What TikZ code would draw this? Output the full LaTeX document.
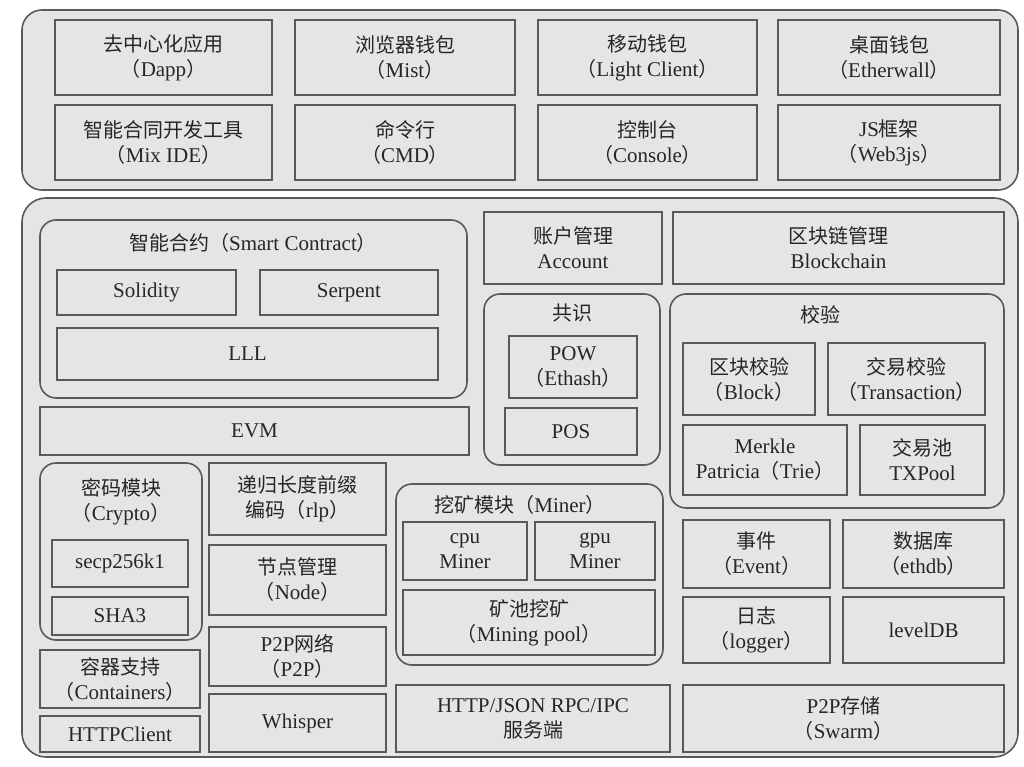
\documentclass[tikz,border=0pt]{standalone}
\usepackage{fontspec}
\setmainfont{Liberation Serif}
\newfontfamily\cjk{Noto Sans CJK SC}
\newcommand{\zh}[1]{{\cjk\fontsize{20}{25}\selectfont #1}}
\newcommand{\lp}{\zh{（}}
\newcommand{\rp}{\zh{）}}
\newcommand{\bx}[5]{\draw[box] (#2) rectangle (#3) node[midway,txt] (#1) {#4#5};}
\begin{document}
\begin{tikzpicture}[x=1pt,y=-1pt,
  box/.style={draw=black!65,line width=1.6pt,fill=black!10},
  rbox/.style={draw=black!65,line width=1.6pt,fill=black!10,rounded corners=16pt},
  txt/.style={align=center,font=\fontsize{21}{25}\selectfont,text=black!85,inner sep=0pt}]
\useasboundingbox[fill=white] (0,0) rectangle (1024,767);
\draw[rbox,rounded corners=20pt] (22,10) rectangle (1018,190);
\bx{a1}{55,20}{272,95}{\zh{去中心化应用}\\}{\lp Dapp\rp}
\bx{a2}{295,20}{515,95}{\zh{浏览器钱包}\\}{\lp Mist\rp}
\bx{a3}{538,20}{757,95}{\zh{移动钱包}\\}{\lp Light Client\rp}
\bx{a4}{778,20}{1000,95}{\zh{桌面钱包}\\}{\lp Etherwall\rp}
\bx{b1}{55,105}{272,180}{\zh{智能合同开发工具}\\}{\lp Mix IDE\rp}
\bx{b2}{295,105}{515,180}{\zh{命令行}\\}{\lp CMD\rp}
\bx{b3}{538,105}{757,180}{\zh{控制台}\\}{\lp Console\rp}
\bx{b4}{778,105}{1000,180}{JS\zh{框架}\\}{\lp Web3js\rp}
\draw[rbox,rounded corners=24pt] (22,198) rectangle (1018,757);
% smart contract
\draw[rbox] (40,220) rectangle (467,398);
\node[txt] (sct) at (253,243) {\zh{智能合约}\lp Smart Contract\rp};
\bx{sol}{57,270}{236,315}{Solidity}{}
\bx{ser}{260,270}{438,315}{Serpent}{}
\bx{lll}{57,328}{438,380}{LLL}{}
\bx{evm}{40,407}{469,455}{EVM}{}
\bx{acc}{484,212}{662,284}{\zh{账户管理}\\}{Account}
\bx{bc}{673,212}{1004,284}{\zh{区块链管理}\\}{Blockchain}
% consensus
\draw[rbox] (484,294) rectangle (660,465);
\node[txt] (gs) at (572,313) {\zh{共识}};
\bx{pow}{509,336}{637,398}{POW\\}{\lp Ethash\rp}
\bx{pos}{505,408}{637,455}{POS}{}
% verify
\draw[rbox] (670,294) rectangle (1004,508);
\node[txt] (jy) at (820,315) {\zh{校验}};
\bx{blk}{683,343}{815,415}{\zh{区块校验}\\}{\lp Block\rp}
\bx{tx}{828,343}{985,415}{\zh{交易校验}\\}{\lp Transaction\rp}
\bx{mpt}{683,425}{847,495}{Merkle\\}{Patricia\lp Trie\rp}
\bx{txp}{860,425}{985,495}{\zh{交易池}\\}{TXPool}
% crypto
\draw[rbox] (40,463) rectangle (202,640);
\node[txt] (cr) at (121,502) {\zh{密码模块}\\\lp Crypto\rp};
\bx{secp}{52,540}{188,587}{secp256k1}{}
\bx{sha}{52,597}{188,635}{SHA3}{}
\bx{rlp}{209,463}{386,535}{\zh{递归长度前缀}\\}{\zh{编码}\lp rlp\rp}
\bx{node}{209,545}{386,615}{\zh{节点管理}\\}{\lp Node\rp}
\bx{p2p}{209,627}{386,686}{P2P\zh{网络}\\}{\lp P2P\rp}
\bx{cont}{40,650}{200,708}{\zh{容器支持}\\}{\lp Containers\rp}
\bx{hc}{40,716}{200,752}{HTTPClient}{}
\bx{wh}{209,694}{386,752}{Whisper}{}
% miner
\draw[rbox] (396,484) rectangle (663,665);
\node[txt] (mn) at (520,505) {\zh{挖矿模块}\lp Miner\rp};
\bx{cpu}{403,522}{527,580}{cpu\\}{Miner}
\bx{gpu}{535,522}{655,580}{gpu\\}{Miner}
\bx{pool}{403,590}{655,655}{\zh{矿池挖矿}\\}{\lp Mining pool\rp}
\bx{rpc}{396,685}{670,752}{HTTP/JSON RPC/IPC\\}{\zh{服务端}}
\bx{sw}{683,685}{1004,752}{P2P\zh{存储}\\}{\lp Swarm\rp}
\bx{ev}{683,520}{830,588}{\zh{事件}\\}{\lp Event\rp}
\bx{db}{843,520}{1004,588}{\zh{数据库}\\}{\lp ethdb\rp}
\bx{lg}{683,597}{830,663}{\zh{日志}\\}{\lp logger\rp}
\bx{ldb}{843,597}{1004,663}{levelDB}{}
\end{tikzpicture}
\end{document}
